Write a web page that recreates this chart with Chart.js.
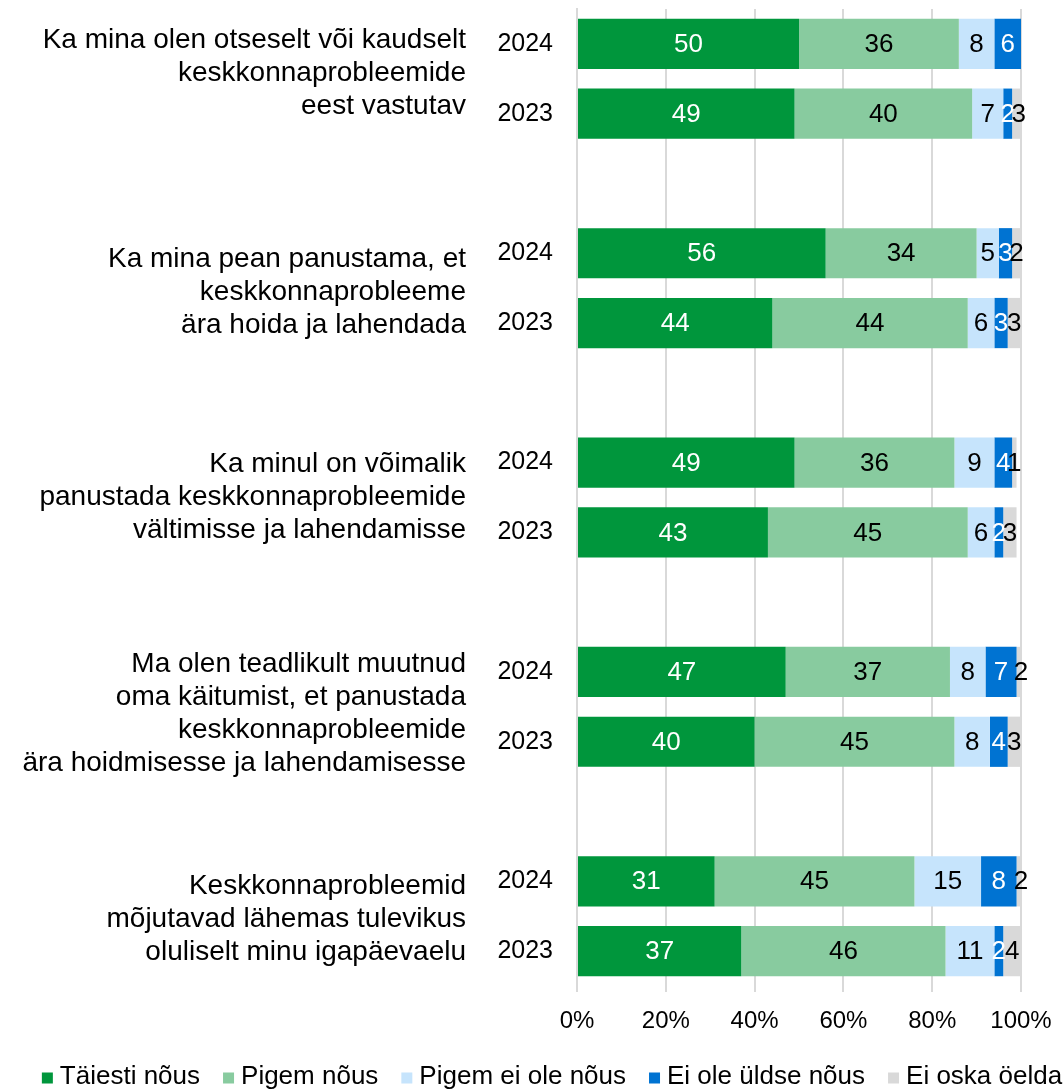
<!DOCTYPE html>
<html>
<head>
<meta charset="utf-8">
<script src="https://cdn.jsdelivr.net/npm/chart.js@4.4.1/dist/chart.umd.min.js"></script>
<style>
    html, body { margin: 0; padding: 0; background: #fff; }
    #wrap { width: 1063px; height: 1091px; }
</style>
</head>
<body>
<div id="wrap"><canvas id="surveyChart"></canvas></div>
<script>
// one slot per bar, empty slot between statements
const yearLabels = ['2024', '2023', '', '2024', '2023', '', '2024', '2023', '', '2024', '2023', '', '2024', '2023'];

const statements = [
    ['Ka mina olen otseselt või kaudselt', 'keskkonnaprobleemide', 'eest vastutav'],
    ['Ka mina pean panustama, et', 'keskkonnaprobleeme', 'ära hoida ja lahendada'],
    ['Ka minul on võimalik', 'panustada keskkonnaprobleemide', 'vältimisse ja lahendamisse'],
    ['Ma olen teadlikult muutnud', 'oma käitumist, et panustada', 'keskkonnaprobleemide', 'ära hoidmisesse ja lahendamisesse'],
    ['Keskkonnaprobleemid', 'mõjutavad lähemas tulevikus', 'oluliselt minu igapäevaelu']
];

const seriesNames = ['Täiesti nõus', 'Pigem nõus', 'Pigem ei ole nõus', 'Ei ole üldse nõus', 'Ei oska öelda'];

const fullyAgree    = [50, 49, null, 56, 44, null, 49, 43, null, 47, 40, null, 31, 37];
const ratherAgree   = [36, 40, null, 34, 44, null, 36, 45, null, 37, 45, null, 45, 46];
const ratherNot     = [8, 7, null, 5, 6, null, 9, 6, null, 8, 8, null, 15, 11];
const notAtAll      = [6, 2, null, 3, 3, null, 4, 2, null, 7, 4, null, 8, 2];
const cannotSay     = [null, 3, null, 2, 3, null, 1, 3, null, 2, 3, null, 2, 4];

const xTicks = [0, 20, 40, 60, 80, 100];

const COLORS = ['#00963c', '#88cb9f', '#c6e4fc', '#0073d2', '#d9d9d9'];
const LABEL_COLORS = ['#ffffff', '#000000', '#000000', '#ffffff', '#000000'];
const FONT = 'Liberation Sans, Arial, sans-serif';

const valueLabels = {
    id: 'valueLabels',
    afterDatasetsDraw(chart) {
        const ctx = chart.ctx;
        ctx.save();
        ctx.font = '26px ' + FONT;
        ctx.textAlign = 'center';
        ctx.textBaseline = 'middle';
        chart.data.datasets.forEach((ds, i) => {
            const meta = chart.getDatasetMeta(i);
            meta.data.forEach((bar, j) => {
                const v = ds.data[j];
                if (v == null) return;
                const p = bar.getProps(['x', 'y', 'base'], true);
                ctx.fillStyle = LABEL_COLORS[i];
                ctx.fillText(String(v), (p.x + p.base) / 2, p.y + 1);
            });
        });
        ctx.restore();
    }
};

const statementLabels = {
    id: 'statementLabels',
    afterDraw(chart) {
        const ctx = chart.ctx;
        const yScale = chart.scales.y;
        const lineH = 33;
        // small vertical shifts, Excel did not centre these blocks exactly
        const nudge = [-6, 4, 0, 7, 3];
        ctx.save();
        ctx.font = '28px ' + FONT;
        ctx.fillStyle = '#000';
        ctx.textAlign = 'right';
        ctx.textBaseline = 'middle';
        statements.forEach((lines, g) => {
            const mid = (yScale.getPixelForValue(g * 3) + yScale.getPixelForValue(g * 3 + 1)) / 2;
            const top = mid + nudge[g] - (lines.length - 1) * lineH / 2;
            lines.forEach((line, k) => {
                ctx.fillText(line, 466, top + k * lineH);
            });
        });
        ctx.restore();
    }
};

// legend drawn by hand so the row spacing matches the original
const bottomLegend = {
    id: 'bottomLegend',
    afterDraw(chart) {
        const ctx = chart.ctx;
        const box = 11, gapText = 7, gapItem = 23;
        const y = chart.height - 14;
        ctx.save();
        ctx.font = '26px ' + FONT;
        ctx.textBaseline = 'middle';
        const items = chart.data.datasets.map(ds => ({
            text: ds.label,
            color: ds.backgroundColor,
            w: ctx.measureText(ds.label).width
        }));
        const total = items.reduce((s, it) => s + box + gapText + it.w, 0) + gapItem * (items.length - 1);
        let x = 552 - total / 2;
        items.forEach(it => {
            ctx.fillStyle = it.color;
            ctx.fillRect(x, y - box / 2 + 1, box, box);
            x += box + gapText;
            ctx.fillStyle = '#000';
            ctx.fillText(it.text, x, y);
            x += it.w + gapItem;
        });
        ctx.restore();
    }
};

const ctx = document.getElementById('surveyChart').getContext('2d');
new Chart(ctx, {
    type: 'bar',
    data: {
        labels: yearLabels,
        datasets: [fullyAgree, ratherAgree, ratherNot, notAtAll, cannotSay].map((d, i) => ({
            label: seriesNames[i],
            data: d,
            backgroundColor: COLORS[i],
            borderWidth: 0,
            categoryPercentage: 1,
            barPercentage: 0.72
        }))
    },
    options: {
        indexAxis: 'y',
        responsive: true,
        maintainAspectRatio: false,
        animation: false,
        layout: {
            padding: { top: 9, right: 42, left: 0, bottom: 47 }
        },
        plugins: {
            legend: { display: false },
            tooltip: { enabled: false }
        },
        scales: {
            x: {
                stacked: true,
                min: 0,
                max: 100,
                afterBuildTicks: function(scale) {
                    scale.ticks = xTicks.map(v => ({ value: v }));
                },
                afterFit: function(scale) {
                    scale.height = 58;
                    scale.paddingLeft = 0;
                    scale.paddingRight = 0;
                },
                grid: {
                    color: '#d9d9d9',
                    lineWidth: 2,
                    tickLength: 6
                },
                border: { display: false },
                ticks: {
                    color: '#000',
                    font: { family: FONT, size: 24 },
                    padding: 15,
                    callback: function(value) {
                        return value + '%';
                    }
                }
            },
            y: {
                stacked: true,
                afterFit: function(scale) {
                    scale.width = 577;
                    scale.paddingTop = 0;
                    scale.paddingBottom = 0;
                },
                grid: { display: false },
                border: { color: '#d9d9d9', width: 2 },
                ticks: {
                    color: '#000',
                    font: { family: FONT, size: 25 },
                    padding: 16,
                    autoSkip: false
                }
            }
        }
    },
    plugins: [valueLabels, statementLabels, bottomLegend]
});
</script>
</body>
</html>
